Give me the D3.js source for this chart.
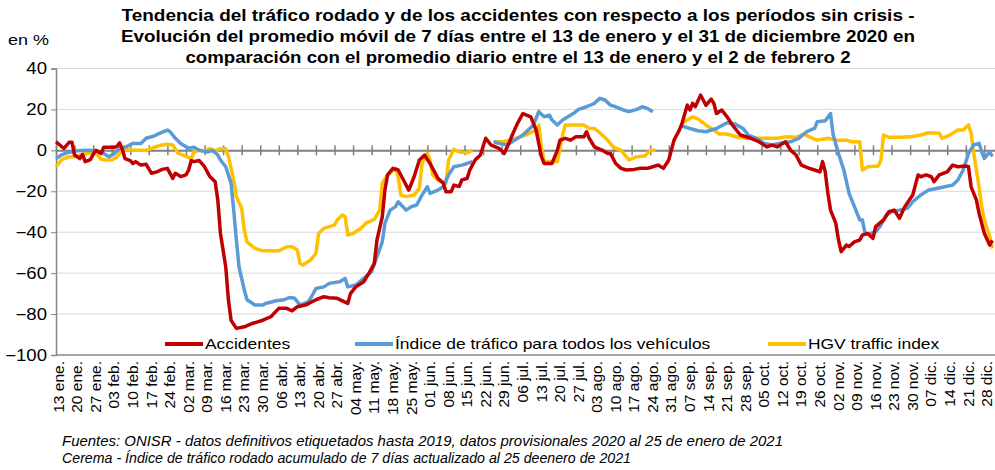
<!DOCTYPE html>
<html>
<head>
<meta charset="utf-8">
<script src="https://cdn.jsdelivr.net/npm/d3@7"></script>
<style>
  body { margin: 0; background: #fff; }
  svg text { font-family: "Liberation Sans", Arial, sans-serif; fill: #000; }
</style>
</head>
<body>
<div id="vis"></div>
<script>
// valores: [día desde el 13 ene., %], null = sin dato
var accidentes = [[0,4.2],[2,2],[3,1],[5,4],[6,4],[7,-2.3],[9,-4],[10,-2],[11,-5.5],[13,-4.5],[14,-2],[15,0],[17,-1.5],[18,1.5],[20,1.5],[22,1.5],[23,2],[24,3.7],[25,0.5],[26,-4],[28,-5],[29,-6.4],[30,-5.5],[32,-7.2],[34,-6.8],[36,-11.2],[38,-10.5],[40,-9.3],[42,-8.8],[44,-13.7],[45,-11.2],[47,-12.8],[49,-12],[50,-9.6],[51,-5],[52,-5.5],[54,-5],[56,-8],[58,-12.8],[60,-15.3],[61,-24.3],[62,-40.6],[64,-57],[65,-73],[66,-83],[68,-87],[71,-86.2],[74,-84.6],[78,-83],[81,-81.3],[84,-77.2],[87,-77.2],[89,-78.4],[91,-76.4],[94,-75.6],[98,-73],[101,-71.5],[103,-72],[106,-72.3],[110,-74.8],[111,-70],[113,-66.7],[116,-64.2],[118,-60],[120,-55.2],[121,-43.8],[123,-32.5],[124,-19.4],[125,-12],[127,-8.8],[129,-9.6],[131,-14.5],[133,-19.4],[135,-12.9],[137,-4.7],[139,-2.3],[141,-6.4],[144,-13.7],[146,-16.1],[147,-20.2],[149,-20.2],[150,-17],[152,-17.7],[153,-14.5],[155,-13.7],[156,-9.6],[158,-4.7],[160,-2.3],[162,5.9],[164,2.6],[165,2.1],[167,1],[169,-1.5],[171,4.2],[172,7.5],[174,13.2],[176,18],[179,16.4],[181,9.9],[182,3.4],[183,-3.1],[184,-6.4],[187,-6.4],[189,0],[190,5],[192,5.9],[194,5],[196,6.6],[199,6.6],[200,9.1],[201,5.9],[203,1.7],[206,0],[208,-1.5],[209,-1.5],[211,-6.4],[213,-8.8],[215,-9.6],[218,-9.3],[220,-8.8],[223,-8.8],[225,-8],[227,-7.2],[229,-8.8],[231,-4.7],[233,5],[235,9.9],[236,13.2],[238,22.1],[239,19.7],[240,23],[241,21.3],[243,27],[244,24.6],[245,22],[247,25],[248,23],[249,18],[251,19.7],[253,16.4],[255,12.4],[258,7.5],[262,5.9],[265,4.2],[268,1.7],[270,2.6],[272,1.7],[274,3.4],[275,4.2],[277,0],[279,-2.3],[281,-7.2],[284,-8.8],[286,-9.6],[288,-10.5],[289,-5.5],[290,-10.5],[291,-21],[292,-29.2],[294,-35.7],[295,-43.8],[296,-49.5],[298,-46.3],[299,-47],[301,-44.7],[303,-43.8],[304,-41.4],[306,-40.6],[308,-43],[309,-37.3],[312,-34],[314,-30],[316,-29.2],[318,-33.2],[320,-27.5],[323,-21.8],[325,-12],[326,-12.9],[328,-12],[330,-12.9],[331,-15.3],[333,-12],[336,-10.5],[338,-7.2],[340,-8],[343,-7.6],[344,-8],[345,-17.8],[347,-24.3],[348,-30.8],[350,-40.6],[352,-46.3],[353,-44]];

var indiceTrafico = [[0,-4],[2,-2.3],[4,-1.2],[8,-0.2],[12,0],[15,-0.2],[18,-1.5],[20,-3.1],[22,-1.5],[24,1],[27,2.1],[29,3.4],[32,3.4],[34,5.9],[37,7],[39,8.3],[42,9.9],[43,9.1],[45,5.9],[47,3.4],[50,1],[52,1.5],[54,0],[57,-0.8],[59,0],[61,-2.3],[62,-4.7],[64,-8],[66,-16.1],[67,-29.2],[68,-43.8],[69,-57],[71,-68.3],[72,-73],[75,-75.6],[78,-75.6],[79,-74.8],[83,-73.5],[86,-73],[88,-71.9],[90,-72.3],[92,-75.6],[95,-74],[96,-72.3],[98,-67.5],[101,-66.7],[103,-65],[107,-64.2],[109,-62.6],[110,-66.7],[113,-65.8],[116,-62.6],[119,-59.3],[121,-52],[123,-44.7],[124,-35.7],[126,-29.2],[128,-27.5],[129,-25.1],[132,-29.2],[134,-27.5],[136,-26.7],[138,-21.8],[140,-17.8],[141,-21],[144,-19.4],[146,-17.8],[148,-12],[150,-8],[153,-7.2],[155,-6.4],[157,-5.5],[158,null],[165,4.2],[167,3.4],[170,2.6],[173,5],[176,7.5],[178,9.9],[180,12.4],[182,18.9],[184,16.4],[186,17.2],[187,14.8],[189,12.4],[191,14.8],[193,16.4],[195,18],[197,20],[200,21.3],[203,23],[205,25.4],[207,24.6],[209,22.1],[211,21.3],[214,19.7],[216,18.9],[219,20],[221,21.3],[223,20.5],[225,18.9],[226,null],[236,11.9],[239,10.7],[242,9.6],[245,9.1],[249,10.7],[253,13.5],[256,12.9],[259,10.7],[261,7.5],[264,5.9],[267,3.4],[270,2.6],[274,3.7],[277,4.2],[280,5.9],[283,9.1],[286,10.7],[287,14],[290,14.5],[292,18],[293,7.5],[295,-1.5],[297,-9.6],[299,-21],[301,-27.5],[303,-34],[304,-34],[305,-40.6],[307,-40.6],[309,-39.8],[311,-36.5],[313,-31.6],[315,-30],[318,-29.2],[321,-28.3],[323,-25.1],[326,-21.8],[329,-19.4],[332,-18.6],[335,-17.8],[338,-17],[340,-14.5],[342,-9.6],[344,-1.5],[346,2.6],[348,3.4],[349,-0.7],[350,-4],[352,-0.7],[353,-3]];

var indiceHGV = [[0,-8],[2,-4.7],[5,-3.1],[7,-3.1],[10,-2],[12,-1.5],[15,-1.2],[17,-4.4],[19,-4.7],[21,-4.7],[23,-3.1],[25,0],[27,0.3],[30,0],[34,0],[37,1.5],[40,2.6],[42,3],[44,2.6],[46,-1.5],[48,-2.3],[51,-4],[52,-0.8],[54,0],[56,-0.3],[58,0.8],[60,-0.3],[62,0.8],[64,0.8],[65,-3.1],[67,-14.5],[68,-22.6],[70,-28.3],[71,-39],[72,-44.7],[75,-47.9],[78,-49.1],[84,-49.1],[87,-47.1],[89,-47.1],[91,-48.7],[92,-55.2],[93,-56],[96,-53.6],[98,-50.3],[99,-40.6],[101,-38.1],[103,-37.3],[105,-36.5],[106,-34],[108,-31.6],[109,-32.4],[110,-41.4],[112,-40.6],[115,-38.1],[117,-35.4],[120,-33.7],[122,-29.2],[123,-16.1],[125,-12],[128,-8.8],[129,-12.9],[130,-21.8],[132,-22.6],[135,-21.8],[137,-18.6],[138,-6.4],[140,-1.5],[141,-4.7],[142,-12],[144,-14.5],[147,-16.1],[148,-4.7],[150,0.5],[152,-0.8],[155,-1.2],[157,0],[158,null],[165,4.2],[169,4.2],[172,5.4],[175,6.6],[178,8],[181,9.9],[182,12.4],[183,1.7],[184,-5.5],[187,-5.5],[189,-5.5],[191,7.5],[192,12.4],[195,12.4],[199,12.4],[201,10.7],[203,10.7],[205,8.6],[208,5],[210,1.7],[213,0],[215,-3.1],[216,-4.7],[219,-3.1],[222,-2.8],[224,0],[226,0],[227,null],[236,13.2],[238,14.8],[240,16.4],[242,15.4],[245,12.4],[248,9.9],[250,8],[253,8],[257,6.4],[260,5.9],[264,5.9],[268,5.9],[272,5.9],[275,6.6],[279,6.4],[282,8],[284,6.6],[287,5],[291,5.9],[294,5],[298,5],[300,4.2],[303,4.2],[304,-9.6],[306,-8],[310,-7.7],[311,-4.7],[312,7.5],[314,6.4],[318,6.4],[322,6.6],[326,7.5],[329,8.6],[333,8.3],[334,5.9],[337,7.5],[340,9.9],[342,9.9],[344,12.4],[345,8.3],[346,-1.5],[348,-17.8],[349,-27.5],[350,-34],[352,-42.2],[353,-47.9]];

var tickLabels = ["13 ene.","20 ene.","27 ene.","03 feb.","10 feb.","17 feb.","24 feb.","02 mar.","09 mar.","16 mar.","23 mar.","30 mar.","06 abr.","13 abr.","20 abr.","27 abr.","04 may.","11 may.","18 may.","25 may.","01 jun.","08 jun.","15 jun.","22 jun.","29 jun.","06 jul.","13 jul.","20 jul.","27 jul.","03 ago.","10 ago.","17 ago.","24 ago.","31 ago.","07 sep.","14 sep.","21 sep.","28 sep.","05 oct.","12 oct.","19 oct.","26 oct.","02 nov.","09 nov.","16 nov.","23 nov.","30 nov.","07 dic.","14 dic.","21 dic.","28 dic."];
var yTicks = [40, 20, 0, -20, -40, -60, -80, -100];

var seriesNames = ["Accidentes", "Índice de tráfico para todos los vehículos", "HGV traffic index"];
var seriesColors = ["#C00000", "#5B9BD5", "#FFC000"];

var titleLines = [
  "Tendencia del tráfico rodado y de los accidentes con respecto a los períodos sin crisis -",
  "Evolución del promedio móvil de 7 días entre el 13 de enero y el 31 de diciembre 2020 en",
  "comparación con el promedio diario entre el 13 de enero y el 2 de febrero 2"
];
var titleWidths = [793, 794, 665];
var footLines = [
  "Fuentes: ONISR - datos definitivos etiquetados hasta 2019, datos provisionales 2020 al 25 de enero de 2021",
  "Cerema - Índice de tráfico rodado acumulado de 7 días actualizado al 25 deenero de 2021"
];
var footWidths = [721, 569];

var width = 995, height = 470;
var margin = { top: 68.5, bottom: 115, left: 56, right: 0 };

var svg = d3.select('#vis').append('svg')
    .attr('width', width)
    .attr('height', height);

// the source fonts are a bit wider than Arial
function widen(sel, k) {
  sel.each(function() {
    var w = this.getComputedTextLength();
    d3.select(this).attr('textLength', w * k).attr('lengthAdjust', 'spacingAndGlyphs');
  });
}

var start = new Date(2020, 0, 13);
var end = new Date(2021, 0, 1);

var x = d3.scaleTime()
    .domain([start, end])
    .range([margin.left, width - margin.right]);

var y = d3.scaleLinear()
    .domain([-100, 40])
    .range([height - margin.bottom, margin.top]);

function day(n) { return d3.timeDay.offset(start, n); }

// title
svg.append('g').selectAll('text')
    .data(titleLines)
    .enter().append('text')
    .attr('x', 518)
    .attr('y', function(d, i) { return 21 + i * 21; })
    .attr('text-anchor', 'middle')
    .attr('textLength', function(d, i) { return titleWidths[i]; })
    .attr('lengthAdjust', 'spacingAndGlyphs')
    .style('font-size', '16px')
    .style('font-weight', 'bold')
    .text(function(d) { return d; });

svg.append('text')
    .attr('x', 8)
    .attr('y', 45)
    .style('font-size', '15.5px')
    .text('en %')
    .call(widen, 1.16);

// grid
svg.append('g').selectAll('line')
    .data(yTicks.filter(function(d) { return d !== 0 && d !== -100; }))
    .enter().append('line')
    .attr('x1', margin.left).attr('x2', width)
    .attr('y1', function(d) { return y(d); })
    .attr('y2', function(d) { return y(d); })
    .attr('stroke', '#d9d9d9')
    .attr('stroke-width', 1);

svg.append('line')
    .attr('x1', margin.left).attr('x2', width)
    .attr('y1', y(-100)).attr('y2', y(-100))
    .attr('stroke', '#a6a6a6')
    .attr('stroke-width', 2);

// y axis
var yAxis = svg.append('g')
    .attr('transform', 'translate(' + margin.left + ',0)')
    .call(d3.axisLeft(y).tickValues(yTicks).tickSize(5).tickPadding(4));
yAxis.select('.domain').attr('stroke', '#868686').attr('stroke-width', 1.5);
yAxis.selectAll('.tick line').attr('stroke', '#868686');
yAxis.selectAll('.tick text')
    .style('font-size', '16px')
    .style('font-family', '"Liberation Sans", Arial, sans-serif')
    .call(widen, 1.16);

// axis at zero with weekly ticks
var weeks = tickLabels.map(function(d, i) { return day(i * 7); });

var zeroAxis = svg.append('g')
    .attr('transform', 'translate(0,' + y(0) + ')')
    .call(d3.axisBottom(x).tickValues(weeks.concat([day(357)])).tickSize(0).tickFormat(''));
zeroAxis.select('.domain').attr('stroke', '#808080').attr('stroke-width', 2);
zeroAxis.selectAll('.tick line')
    .attr('y1', -5).attr('y2', 5)
    .attr('stroke', '#808080')
    .attr('stroke-width', 1.5);

// bottom labels
var xAxis = svg.append('g')
    .attr('transform', 'translate(0,' + (y(-100) + 6) + ')')
    .call(d3.axisBottom(x).tickValues(weeks).tickSize(0).tickFormat(function(d, i) { return tickLabels[i]; }));
xAxis.select('.domain').remove();
xAxis.selectAll('.tick text')
    .attr('transform', 'rotate(-90)')
    .attr('x', 0)
    .attr('y', 0)
    .attr('dy', '0.5em')
    .attr('text-anchor', 'end')
    .style('font-size', '14.5px')
    .style('font-family', '"Liberation Sans", Arial, sans-serif')
    .call(widen, 1.07);

// lines
var line = d3.line()
    .defined(function(d) { return d[1] !== null; })
    .x(function(d) { return x(day(d[0])); })
    .y(function(d) { return y(d[1]); });

[indiceHGV, indiceTrafico, accidentes].forEach(function(s, i) {
  svg.append('path')
      .datum(s)
      .attr('fill', 'none')
      .attr('stroke', seriesColors[2 - i])
      .attr('stroke-width', 3.5)
      .attr('stroke-linejoin', 'round')
      .attr('d', line);
});

// legend
var legendX = [165, 355, 768];
var legend = svg.append('g').selectAll('g')
    .data(seriesNames)
    .enter().append('g')
    .attr('transform', function(d, i) { return 'translate(' + legendX[i] + ',344)'; });
legend.append('line')
    .attr('x1', 0).attr('x2', 38)
    .attr('stroke', function(d, i) { return seriesColors[i]; })
    .attr('stroke-width', 4);
legend.append('text')
    .attr('x', 40)
    .attr('dy', '0.36em')
    .style('font-size', '15px')
    .text(function(d) { return d; })
    .call(widen, 1.16);

// footer
svg.append('g').selectAll('text')
    .data(footLines)
    .enter().append('text')
    .attr('x', 62)
    .attr('y', function(d, i) { return 446 + i * 17; })
    .attr('textLength', function(d, i) { return footWidths[i]; })
    .attr('lengthAdjust', 'spacingAndGlyphs')
    .style('font-size', '14px')
    .style('font-style', 'italic')
    .text(function(d) { return d; });
</script>
</body>
</html>
